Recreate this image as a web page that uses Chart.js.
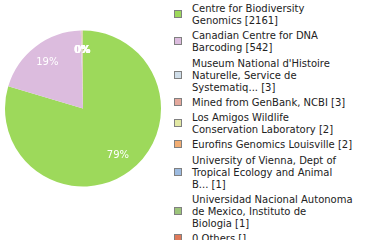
<!DOCTYPE html>
<html>
<head>
<meta charset="utf-8">
<script src="https://cdn.jsdelivr.net/npm/chart.js@4/dist/chart.umd.min.js"></script>
<style>
  html, body { margin:0; padding:0; background:#fff; }
  #wrap { position:relative; width:380px; height:240px; overflow:hidden; }
  #pie { position:absolute; left:0; top:0; width:166px; height:240px; }
  #legend { position:absolute; left:174px; top:3px; width:206px;
    font-family:"DejaVu Sans", sans-serif; font-size:10px; line-height:12px; color:#222; }
  .item { position:relative; padding-left:18px; margin-bottom:3.25px; }
  .box { position:absolute; left:0; width:6px; height:6px; border:1px solid #808080; }
</style>
</head>
<body>
<div id="wrap">
  <div id="pie"><canvas id="c"></canvas></div>
  <div id="legend"></div>
</div>
<script>
const categories = [
  ["Centre for Biodiversity", "Genomics [2161]"],
  ["Canadian Centre for DNA", "Barcoding [542]"],
  ["Museum National d'Histoire", "Naturelle, Service de", "Systematiq... [3]"],
  ["Mined from GenBank, NCBI [3]"],
  ["Los Amigos Wildlife", "Conservation Laboratory [2]"],
  ["Eurofins Genomics Louisville [2]"],
  ["University of Vienna, Dept of", "Tropical Ecology and Animal", "B... [1]"],
  ["Universidad Nacional Autonoma", "de Mexico, Instituto de", "Biologia [1]"],
  ["0 Others []"]
];
const values = [2161, 542, 3, 3, 2, 2, 1, 1, 0];
const colors = ["#9dd95b", "#dcbcde", "#cfdde8", "#e4a99d", "#e2e8a4", "#f2ad72", "#9dbbe0", "#9cc47a", "#e07a5a"];

// HTML legend
const legend = document.getElementById('legend');
categories.forEach((lines, i) => {
  const d = document.createElement('div');
  d.className = 'item';
  const b = document.createElement('div');
  b.className = 'box';
  b.style.background = colors[i];
  b.style.top = (lines.length * 12 / 2 - 5) + 'px';
  d.appendChild(b);
  lines.forEach((t, j) => {
    if (j) d.appendChild(document.createElement('br'));
    d.appendChild(document.createTextNode(t));
  });
  legend.appendChild(d);
});

const total = values.reduce((a, b) => a + b, 0);
const pctLabels = {
  id: 'pctLabels',
  afterDatasetsDraw(chart) {
    const ctx = chart.ctx;
    const meta = chart.getDatasetMeta(0);
    ctx.save();
    ctx.font = '10px "DejaVu Sans", sans-serif';
    ctx.fillStyle = '#ffffff';
    ctx.textAlign = 'center';
    ctx.textBaseline = 'middle';
    meta.data.forEach((arc, i) => {
      if (!values[i]) return;
      const p = arc.getProps(['x', 'y', 'startAngle', 'endAngle', 'outerRadius'], true);
      const mid = (p.startAngle + p.endAngle) / 2;
      const r = p.outerRadius * 0.75;
      const pct = Math.floor(values[i] / total * 100);
      ctx.fillText(pct + '%', p.x + Math.cos(mid) * r, p.y + Math.sin(mid) * r);
    });
    ctx.restore();
  }
};

new Chart(document.getElementById('c'), {
  type: 'pie',
  data: {
    labels: categories.map(l => l.join(' ')),
    datasets: [{ data: values, backgroundColor: colors, borderWidth: 0 }]
  },
  options: {
    responsive: true,
    maintainAspectRatio: false,
    animation: false,
    layout: { padding: { left: 5, right: 5, top: 30.5, bottom: 53.5 } },
    plugins: { legend: { display: false }, tooltip: { enabled: false } }
  },
  plugins: [pctLabels]
});
</script>
</body>
</html>
